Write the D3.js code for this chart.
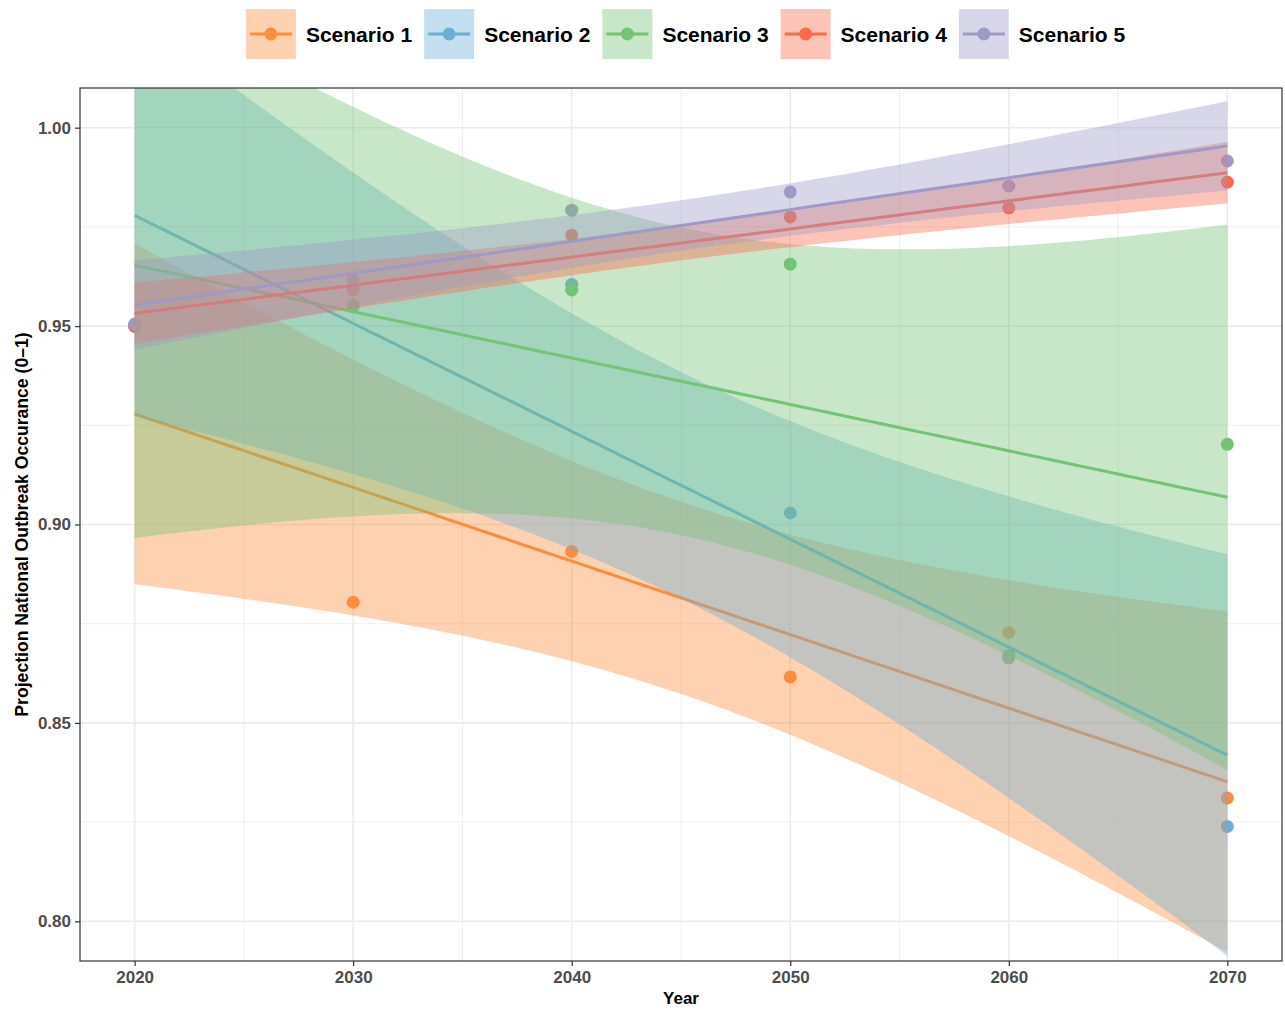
<!DOCTYPE html>
<html>
<head>
<meta charset="utf-8">
<script src="https://cdn.jsdelivr.net/npm/d3@7"></script>
<style>
body { margin: 0; background: #fff; }
text { font-family: "Liberation Sans", Arial, Helvetica, sans-serif; font-weight: bold; }
</style>
</head>
<body>
<div id="chart"></div>
<script>
// data
var years = [2020, 2030, 2040, 2050, 2060, 2070];
var scenarios = ["Scenario 1", "Scenario 2", "Scenario 3", "Scenario 4", "Scenario 5"];
var scenario1 = [0.9500, 0.8804, 0.8932, 0.8616, 0.8728, 0.8311];
var scenario2 = [0.9500, 0.9550, 0.9605, 0.9029, 0.8670, 0.8239];
var scenario3 = [0.9500, 0.9553, 0.9591, 0.9656, 0.8664, 0.9202];
var scenario4 = [0.9500, 0.9591, 0.9729, 0.9775, 0.9798, 0.9863];
var scenario5 = [0.9505, 0.9617, 0.9792, 0.9838, 0.9853, 0.9916];
var colors = ["#fd8d3c", "#6baed6", "#74c476", "#fb6a4a", "#9e9ac8"];
var xTicks = [2020, 2030, 2040, 2050, 2060, 2070];
var yTicks = [0.80, 0.85, 0.90, 0.95, 1.00];
var xMinor = [2025, 2035, 2045, 2055, 2065];
var yMinor = [0.825, 0.875, 0.925, 0.975];

var series = [scenario1, scenario2, scenario3, scenario4, scenario5];

// linear model with 95% confidence band, like geom_smooth(method = "lm")
function lm_band(xs, ys, n) {
    var k = xs.length,
        mx = d3.mean(xs),
        my = d3.mean(ys);
    var sxx = d3.sum(xs, function (x) { return (x - mx) * (x - mx); });
    var sxy = d3.sum(xs, function (x, i) { return (x - mx) * (ys[i] - my); });
    var b = sxy / sxx, a = my - b * mx;
    var sse = d3.sum(xs, function (x, i) { return Math.pow(ys[i] - (a + b * x), 2); });
    var s = Math.sqrt(sse / (k - 2));
    var t = 2.776445; // qt(0.975, df = 4)
    var x0 = d3.min(xs), x1 = d3.max(xs);
    return d3.range(n).map(function (i) {
        var x = x0 + (x1 - x0) * i / (n - 1);
        var fit = a + b * x;
        var se = s * Math.sqrt(1 / k + (x - mx) * (x - mx) / sxx);
        return {x: x, fit: fit, lo: fit - t * se, hi: fit + t * se};
    });
}

var W = 1285, H = 1010;
var margin = {top: 88, right: 3, bottom: 49, left: 80},
    width = W - margin.left - margin.right,
    height = H - margin.top - margin.bottom;

var svg = d3.select("#chart")
    .append("svg")
    .attr("width", W)
    .attr("height", H);

var g = svg.append("g")
    .attr("transform", "translate(" + margin.left + "," + margin.top + ")");

var x = d3.scaleLinear().domain([2017.5, 2072.5]).range([0, width]);
var y = d3.scaleLinear().domain([0.79, 1.01]).range([height, 0]);

g.append("clipPath").attr("id", "panel")
    .append("rect").attr("width", width).attr("height", height);

// grid
var grid = g.append("g");
grid.selectAll(".xminor").data(xMinor).enter().append("line")
    .attr("x1", function (d) { return x(d); }).attr("x2", function (d) { return x(d); })
    .attr("y1", 0).attr("y2", height)
    .style("stroke", "#ebebeb").style("stroke-width", 0.8);
grid.selectAll(".yminor").data(yMinor).enter().append("line")
    .attr("y1", function (d) { return y(d); }).attr("y2", function (d) { return y(d); })
    .attr("x1", 0).attr("x2", width)
    .style("stroke", "#ebebeb").style("stroke-width", 0.8);
grid.selectAll(".xmajor").data(xTicks).enter().append("line")
    .attr("x1", function (d) { return x(d); }).attr("x2", function (d) { return x(d); })
    .attr("y1", 0).attr("y2", height)
    .style("stroke", "#ebebeb").style("stroke-width", 1.6);
grid.selectAll(".ymajor").data(yTicks).enter().append("line")
    .attr("y1", function (d) { return y(d); }).attr("y2", function (d) { return y(d); })
    .attr("x1", 0).attr("x2", width)
    .style("stroke", "#ebebeb").style("stroke-width", 1.6);

var plot = g.append("g").attr("clip-path", "url(#panel)");

// points first (they sit under the smooth layer)
series.forEach(function (vals, s) {
    plot.append("g").selectAll("circle")
        .data(vals)
        .enter()
        .append("circle")
        .attr("cx", function (d, i) { return x(years[i]); })
        .attr("cy", function (d) { return y(d); })
        .attr("r", 6.5)
        .style("fill", colors[s]);
});

// ribbons and fitted lines, group by group
var area = d3.area()
    .x(function (d) { return x(d.x); })
    .y0(function (d) { return y(d.lo); })
    .y1(function (d) { return y(d.hi); });
var line = d3.line()
    .x(function (d) { return x(d.x); })
    .y(function (d) { return y(d.fit); });

series.forEach(function (vals, s) {
    var band = lm_band(years, vals, 80);
    plot.append("path")
        .datum(band)
        .attr("d", area)
        .style("fill", colors[s])
        .style("fill-opacity", 0.4);
    plot.append("path")
        .datum(band)
        .attr("d", line)
        .style("fill", "none")
        .style("stroke", colors[s])
        .style("stroke-width", 3);
});

// panel border
g.append("rect")
    .attr("width", width).attr("height", height)
    .style("fill", "none").style("stroke", "#333").style("stroke-width", 1.2);

// axes
var xAxis = g.append("g")
    .attr("transform", "translate(0," + height + ")")
    .call(d3.axisBottom(x).tickValues(xTicks).tickFormat(d3.format("d")).tickSize(5).tickPadding(5));
var yAxis = g.append("g")
    .call(d3.axisLeft(y).tickValues(yTicks).tickFormat(d3.format(".2f")).tickSize(5).tickPadding(4));

[xAxis, yAxis].forEach(function (ax) {
    ax.select(".domain").remove();
    ax.selectAll(".tick line").style("stroke", "#333").style("stroke-width", 1.2);
    ax.selectAll(".tick text")
        .style("font-family", "'Liberation Sans', Arial, sans-serif")
        .style("font-weight", "bold")
        .style("font-size", "17px")
        .style("fill", "#4d4d4d");
});

svg.append("text")
    .attr("x", margin.left + width / 2)
    .attr("y", 1004)
    .attr("text-anchor", "middle")
    .style("font-size", "17px")
    .text("Year");

svg.append("text")
    .attr("transform", "translate(28," + (margin.top + height / 2) + ") rotate(-90)")
    .attr("text-anchor", "middle")
    .style("font-size", "17.6px")
    .text("Projection National Outbreak Occurance (0\u20131)");

// legend on top
var legend = svg.append("g");
var keySize = 50, textGap = 10, itemGap = 12;
var items = legend.selectAll(".legend")
    .data(scenarios)
    .enter().append("g")
    .attr("class", "legend");

items.append("rect")
    .attr("width", keySize).attr("height", keySize)
    .style("fill", function (d, i) { return colors[i]; })
    .style("fill-opacity", 0.4);
items.append("line")
    .attr("x1", 4).attr("x2", keySize - 4)
    .attr("y1", keySize / 2).attr("y2", keySize / 2)
    .style("stroke", function (d, i) { return colors[i]; })
    .style("stroke-width", 3);
items.append("circle")
    .attr("cx", keySize / 2).attr("cy", keySize / 2).attr("r", 6.5)
    .style("fill", function (d, i) { return colors[i]; });
items.append("text")
    .attr("x", keySize + textGap)
    .attr("y", keySize / 2 + 7.5)
    .style("font-size", "21px")
    .text(function (d) { return d; });

var widths = [];
items.select("text").each(function () { widths.push(this.getComputedTextLength()); });
var offsets = [], acc = 0;
widths.forEach(function (w) { offsets.push(acc); acc += keySize + textGap + w + itemGap; });
var total = acc - itemGap;
var start = 685.5 - total / 2;
items.attr("transform", function (d, i) { return "translate(" + (start + offsets[i]) + ",9)"; });
</script>
</body>
</html>
